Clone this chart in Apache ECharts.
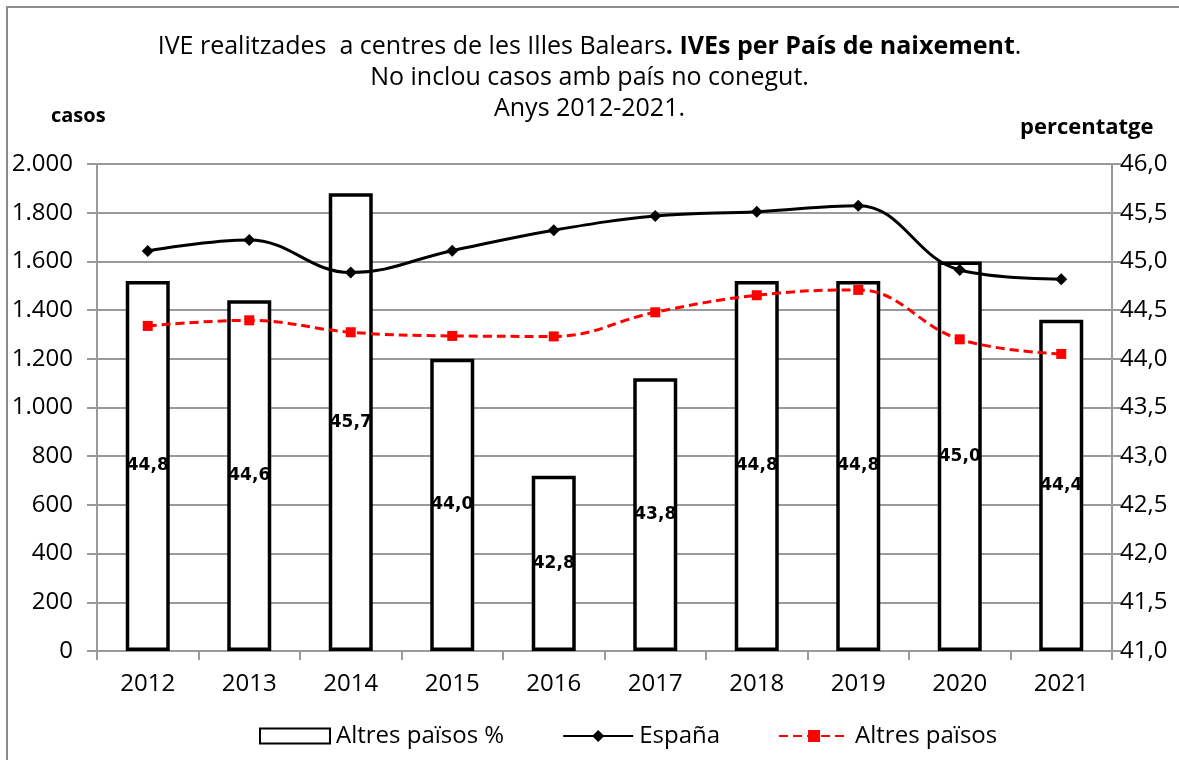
<!DOCTYPE html>
<html>
<head>
<meta charset="utf-8">
<script src="https://cdn.jsdelivr.net/npm/echarts@6/dist/echarts.min.js"></script>
<style>
  html, body { margin: 0; padding: 0; background: #fff; }
  #chart { width: 1179px; height: 760px; }
</style>
</head>
<body>
<div id="chart"></div>
<script>
// Years on the category axis
const years = ['2012', '2013', '2014', '2015', '2016', '2017', '2018', '2019', '2020', '2021'];
// Share of cases born in other countries (%), right axis
const altresPct = [44.8, 44.6, 45.7, 44.0, 42.8, 43.8, 44.8, 44.8, 45.0, 44.4];
// Cases, born in Spain (left axis)
const espanya = [1643, 1688, 1554, 1644, 1728, 1786, 1804, 1829, 1565, 1527];
// Cases, born in other countries (left axis)
const altres = [1335, 1358, 1309, 1294, 1292, 1391, 1461, 1483, 1280, 1220];

const FONT = 'Open Sans';
const GRID = '#9a9a9a';

const chart = echarts.init(document.getElementById('chart'));

function thousands(v) {
  return String(v).replace(/\B(?=(\d{3})+(?!\d))/g, '.');
}
function comma1(v) {
  return Number(v).toFixed(1).replace('.', ',');
}

chart.setOption({
  animation: false,
  backgroundColor: '#fff',
  textStyle: { fontFamily: FONT },
  title: {
    left: 'center',
    top: 26,
    text: '{n|IVE realitzades  a centres de les Illes Balears}{b|. IVEs per País de naixement}{n|.}\n{n|No inclou casos amb país no conegut.}\n{n|Anys 2012-2021.}',
    textStyle: {
      fontFamily: FONT,
      fontSize: 25,
      fontWeight: 'normal',
      color: '#000',
      lineHeight: 31,
      rich: {
        n: { fontFamily: FONT, fontSize: 25, color: '#000', lineHeight: 31 },
        b: { fontFamily: FONT, fontSize: 25, fontWeight: 'bold', color: '#000', lineHeight: 31 }
      }
    }
  },
  graphic: [
    {
      type: 'rect', silent: true, z: -1,
      shape: { x: 7, y: 7, width: 1200, height: 800 },
      style: { fill: 'none', stroke: '#8c8c8c', lineWidth: 2 }
    },
    {
      type: 'text', left: 51, top: 106,
      style: { text: 'casos', font: 'bold 20px "Open Sans"', fill: '#000' }
    },
    {
      type: 'text', left: 1020, top: 117,
      style: { text: 'percentatge', font: 'bold 22px "Open Sans"', fill: '#000' }
    }
  ],
  legend: {
    left: 254,
    top: 719,
    itemWidth: 70,
    itemHeight: 15,
    itemGap: 58,
    textStyle: { fontFamily: FONT, fontSize: 24, color: '#000', padding: [0, 0, 0, 1] },
    data: [
      { name: 'Altres països %', icon: 'rect' },
      { name: 'España' },
      { name: 'Altres països' }
    ]
  },
  grid: { left: 97, right: 67, top: 164, bottom: 109 },
  xAxis: {
    type: 'category',
    data: years,
    boundaryGap: true,
    axisLine: { lineStyle: { color: GRID, width: 2 } },
    axisTick: { show: true, length: 9, lineStyle: { color: GRID, width: 2 } },
    axisLabel: { fontFamily: FONT, fontSize: 24, color: '#000', margin: 21 }
  },
  yAxis: [
    {
      type: 'value',
      min: 0, max: 2000, interval: 200,
      axisLine: { show: true, lineStyle: { color: GRID, width: 2 } },
      axisTick: { show: true, length: 10, lineStyle: { color: GRID, width: 2 } },
      splitLine: { lineStyle: { color: GRID, width: 2 } },
      axisLabel: {
        fontFamily: FONT, fontSize: 24, color: '#000', margin: 24,
        formatter: thousands
      }
    },
    {
      type: 'value',
      min: 41, max: 46, interval: 0.5,
      startValue: 41,
      axisLine: { show: true, lineStyle: { color: GRID, width: 2 } },
      axisTick: { show: true, length: 9, lineStyle: { color: GRID, width: 2 } },
      splitLine: { show: false },
      axisLabel: {
        fontFamily: FONT, fontSize: 24, color: '#000', margin: 8,
        formatter: comma1
      }
    }
  ],
  series: [
    {
      name: 'Altres països %',
      type: 'bar',
      yAxisIndex: 1,
      data: altresPct,
      barWidth: 44,
      z: 1,
      itemStyle: { color: '#fff', borderColor: '#000', borderWidth: 3.5 },
      label: {
        show: true,
        position: 'inside',
        fontFamily: 'DejaVu Sans',
        fontSize: 17,
        fontWeight: 'bold',
        color: '#000',
        formatter: p => comma1(p.value)
      }
    },
    {
      name: 'España',
      type: 'line',
      yAxisIndex: 0,
      data: espanya,
      smooth: 0.4,
      z: 3,
      symbol: 'diamond',
      symbolSize: 12,
      lineStyle: { color: '#000', width: 3 },
      itemStyle: { color: '#000' }
    },
    {
      name: 'Altres països',
      type: 'line',
      yAxisIndex: 0,
      data: altres,
      smooth: 0.4,
      z: 3,
      symbol: 'rect',
      symbolSize: 10,
      lineStyle: { color: '#ff0000', width: 3, type: [9, 5] },
      itemStyle: { color: '#ff0000' }
    }
  ]
});
</script>
</body>
</html>
